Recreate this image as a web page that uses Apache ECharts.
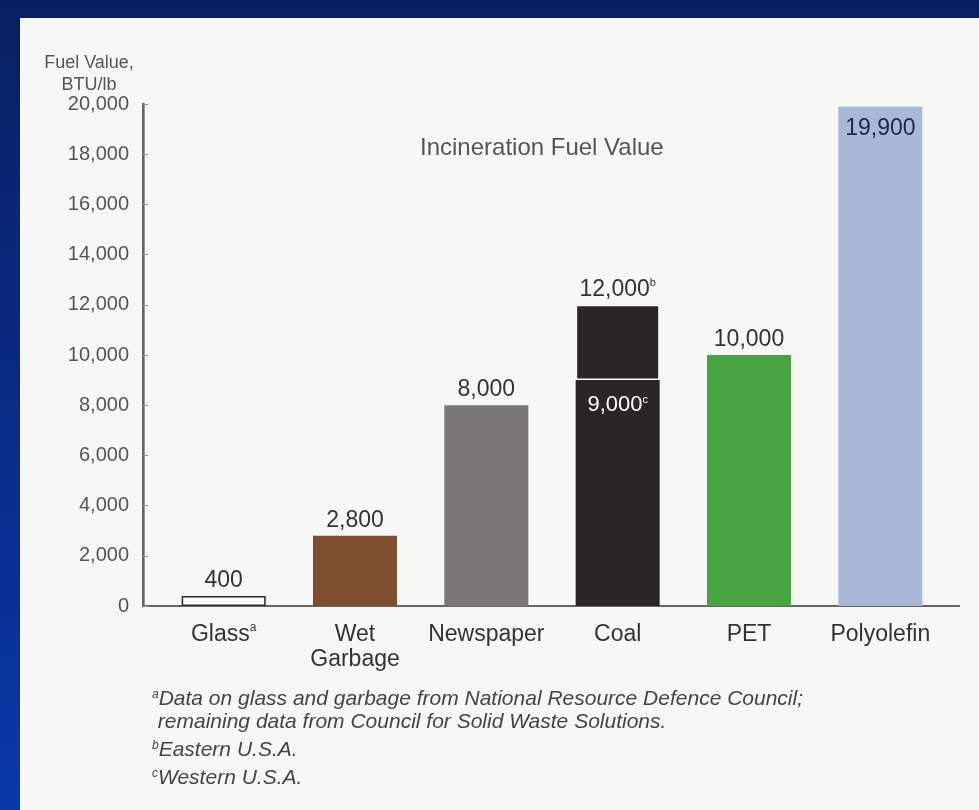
<!DOCTYPE html>
<html>
<head>
<meta charset="utf-8">
<script src="https://cdn.jsdelivr.net/npm/echarts@6/dist/echarts.min.js"></script>
<style>
html,body{margin:0;padding:0;background:#0a2a80;}
#c{width:979px;height:810px;}
</style>
</head>
<body>
<div id="c"></div>
<script>
// ---- data ----
var categories = ['Glass', 'Wet\nGarbage', 'Newspaper', 'Coal', 'PET', 'Polyolefin'];
var categoryNotes = ['a', '', '', '', '', ''];
var fuelValues = [400, 2800, 8000, 12000, 10000, 19900];   // BTU/lb (coal = Eastern U.S.A.)
var coalWestern = 9000;                                     // BTU/lb (Western U.S.A.)
var valueNotes = ['', '', '', 'b', '', ''];
var coalWesternNote = 'c';
var barColors = ['#ffffff', '#7e4e2e', '#7a7876', '#2a2626', '#47a43f', '#a9b8d6'];
var yTicks = [0, 2000, 4000, 6000, 8000, 10000, 12000, 14000, 16000, 18000, 20000];
var chartTitle = 'Incineration Fuel Value';
var axisName = 'Fuel Value,\nBTU/lb';
var footnotes = [
  ['a', 'Data on glass and garbage from National Resource Defence Council;'],
  ['', ' remaining data from Council for Solid Waste Solutions.'],
  ['b', 'Eastern U.S.A.'],
  ['c', 'Western U.S.A.']
];

// ---- derived ----
var coalIndex = categories.indexOf('Coal');
var lastIndex = categories.length - 1;
var baseData = fuelValues.map(function (v, i) {
  var val = (i === coalIndex) ? coalWestern : v;
  var item = { value: val, itemStyle: { color: barColors[i] } };
  if (i === 0) { item.itemStyle.borderColor = '#2a2a2a'; item.itemStyle.borderWidth = 1.5; }
  if (i === coalIndex) { item.label = { position: 'insideTop', distance: 14 }; }
  if (i === lastIndex) { item.label = { position: 'insideTop', distance: 11 }; }
  return item;
});
var topData = fuelValues.map(function (v, i) {
  return i === coalIndex ? { value: v - coalWestern, itemStyle: { color: barColors[i], borderColor: '#f7f7f5', borderWidth: 1.5 } } : '-';
});
function fmt(v) { return Number(v).toLocaleString('en-US'); }

var FONT = '"Liberation Sans", Arial, Helvetica, sans-serif';

var chart = echarts.init(document.getElementById('c'), null, { renderer: 'canvas' });

var footTops = [689, 712, 740, 768];
var footGraphics = footnotes.map(function (f, i) {
  var txt = (f[0] ? '{s|' + f[0] + '}' : '') + '{t|' + f[1] + '}';
  return {
    type: 'text', left: 152, top: footTops[i],
    style: {
      text: txt, fill: '#444',
      rich: {
        s: { fontSize: 12, fontStyle: 'italic', fontFamily: FONT, fill: '#444', verticalAlign: 'top' },
        t: { fontSize: 21, fontStyle: 'italic', fontFamily: FONT, fill: '#444' }
      }
    }
  };
});

var option = {
  backgroundColor: new echarts.graphic.LinearGradient(0, 0, 0, 1, [
    { offset: 0, color: '#0a1f62' }, { offset: 1, color: '#0838a8' }
  ]),
  animation: false,
  textStyle: { fontFamily: FONT },
  graphic: [
    { type: 'rect', left: 20, top: 18, shape: { width: 959, height: 792 }, style: { fill: '#f7f7f5' }, z: -10 }
  ].concat(footGraphics),
  title: [
    { text: axisName, left: 84, top: 47, textAlign: 'center',
      textStyle: { fontSize: 18, fontWeight: 'normal', color: '#555', lineHeight: 22, fontFamily: FONT, align: 'center' } },
    { text: chartTitle, left: 415, top: 131,
      textStyle: { fontSize: 24, fontWeight: 'normal', color: '#555', fontFamily: FONT } }
  ],
  grid: [
    { left: 143, right: 20, top: 104, bottom: 204 },
    { left: 158, right: 33, top: 104, bottom: 204 }
  ],
  xAxis: [
    { type: 'value', gridIndex: 0, min: 0, max: 1, position: 'bottom',
      axisLine: { show: true, lineStyle: { color: '#555', width: 2 } },
      axisTick: { show: false }, axisLabel: { show: false }, splitLine: { show: false } },
    { type: 'value', gridIndex: 0, min: 0, max: 1, position: 'top',
      axisLine: { show: true, lineStyle: { color: '#666', width: 2 } },
      axisTick: { show: false }, axisLabel: { show: false }, splitLine: { show: false } },
    { type: 'category', gridIndex: 1, data: categories,
      axisLine: { show: false }, axisTick: { show: false },
      axisLabel: {
        interval: 0, margin: 16, fontSize: 23, color: '#333', lineHeight: 25, fontFamily: FONT,
        formatter: function (v, i) { return v + (categoryNotes[i] ? '{s|' + categoryNotes[i] + '}' : ''); },
        rich: { s: { fontSize: 12, verticalAlign: 'top', color: '#333', fontFamily: FONT } }
      } }
  ],
  yAxis: [
    { type: 'value', gridIndex: 0, min: yTicks[0], max: yTicks[yTicks.length - 1], interval: yTicks[1] - yTicks[0],
      axisLine: { show: true, lineStyle: { color: '#999', width: 3 } },
      axisTick: { show: true, inside: true, length: 5, lineStyle: { color: '#999', width: 1 } },
      axisLabel: { margin: 14, fontSize: 20, color: '#555', fontFamily: FONT, formatter: function (v) { return fmt(v); } },
      splitLine: { show: false } },
    { type: 'value', gridIndex: 0, position: 'right', min: 0, max: 20000,
      axisLine: { show: true, lineStyle: { color: '#666', width: 2 } },
      axisTick: { show: false }, axisLabel: { show: false }, splitLine: { show: false } },
    { type: 'value', gridIndex: 1, min: 0, max: 20000, show: false }
  ],
  series: [
    { type: 'bar', xAxisIndex: 2, yAxisIndex: 2, stack: 'fuel', barWidth: 84,
      data: baseData,
      label: {
        show: true, position: 'top', distance: 4, fontFamily: FONT, fontSize: 23, color: '#333',
        formatter: function (p) {
          var t = fmt(p.value);
          if (p.dataIndex === coalIndex) return '{w|' + t + '}{ws|' + coalWesternNote + '}';
          if (p.dataIndex === lastIndex) return '{n|' + t + '}';
          return t;
        },
        rich: {
          w: { color: '#fff', fontSize: 22, fontFamily: FONT },
          ws: { color: '#fff', fontSize: 11, verticalAlign: 'top', fontFamily: FONT },
          n: { color: '#1c2a4a', fontSize: 23, fontFamily: FONT }
        }
      }
    },
    { type: 'bar', xAxisIndex: 2, yAxisIndex: 2, stack: 'fuel', barWidth: 84,
      data: topData,
      label: {
        show: true, position: 'top', distance: 4, fontFamily: FONT, fontSize: 23, color: '#333',
        formatter: function (p) {
          return fmt(fuelValues[p.dataIndex]) + (valueNotes[p.dataIndex] ? '{s|' + valueNotes[p.dataIndex] + '}' : '');
        },
        rich: { s: { fontSize: 11, verticalAlign: 'top', color: '#333', fontFamily: FONT } }
      }
    }
  ]
};
chart.setOption(option);
</script>
</body>
</html>
